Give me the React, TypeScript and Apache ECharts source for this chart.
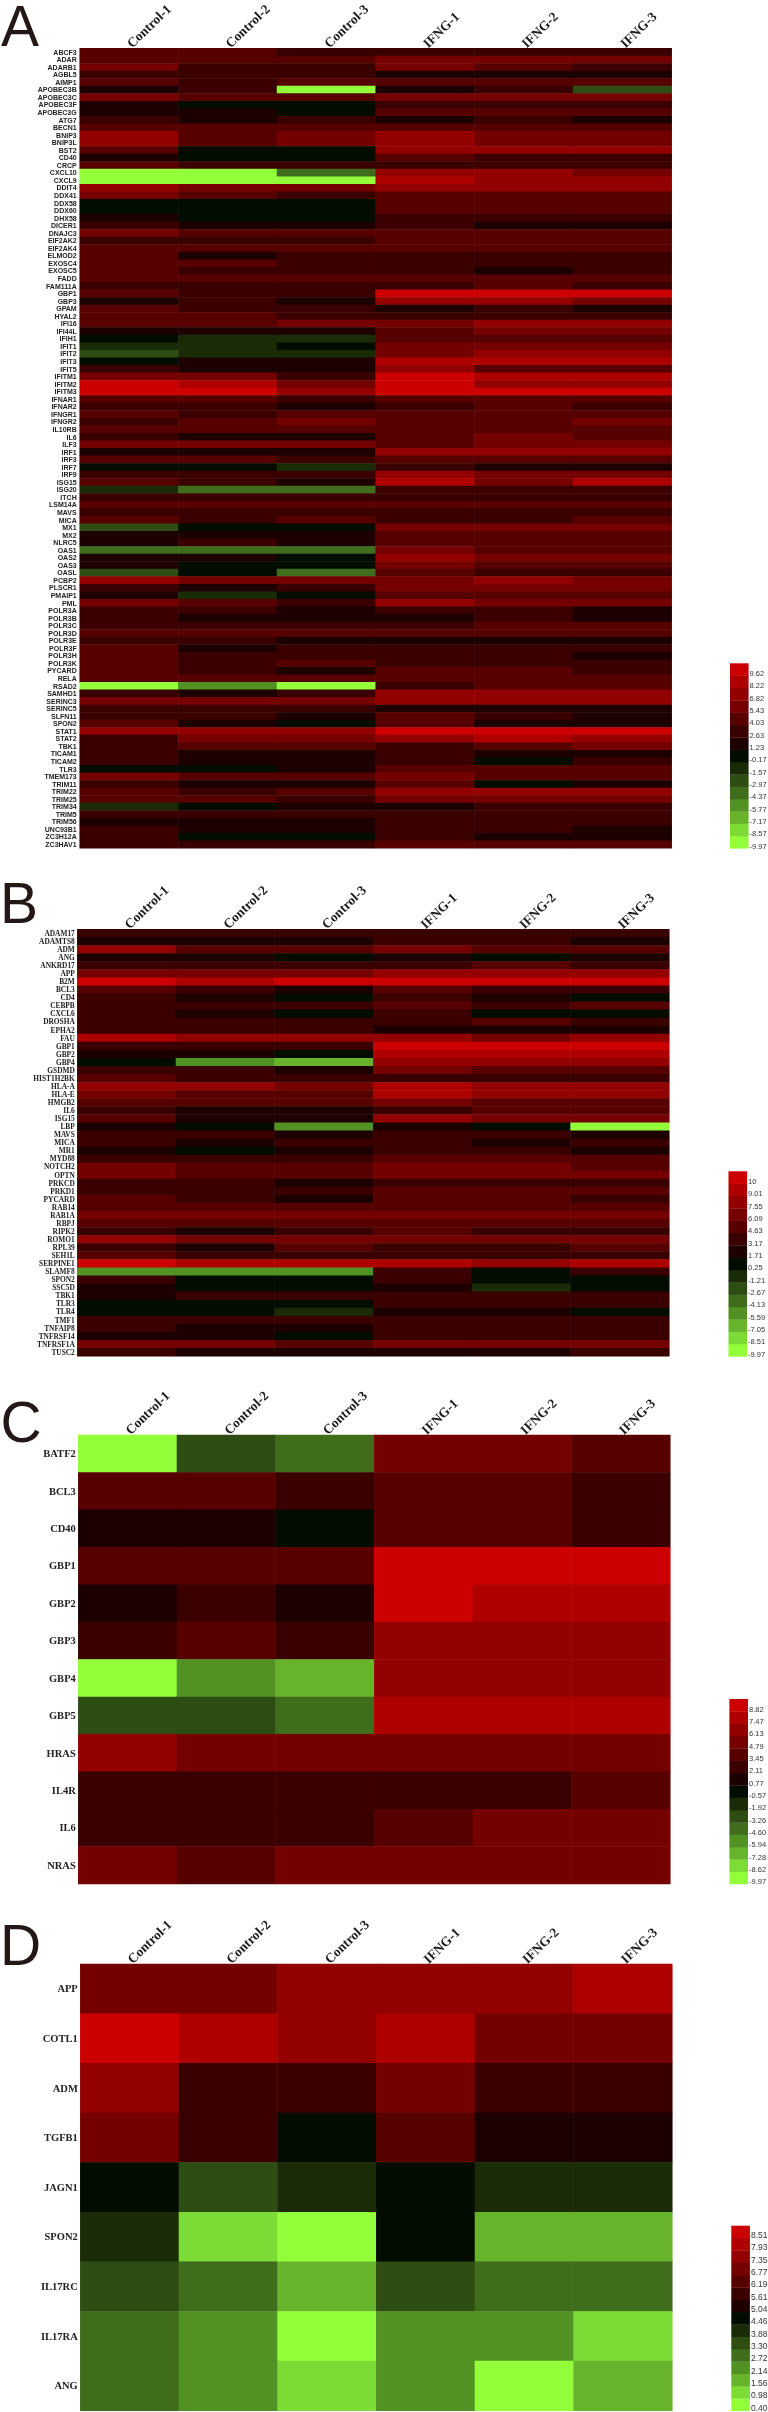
import React, { useEffect, useRef } from "react";
import * as echarts from "echarts";

const samples = ["Control-1", "Control-2", "Control-3", "IFNG-1", "IFNG-2", "IFNG-3"];

// Colour steps, index 0 = bottom (bright green) of each colour key, 14 = top (red).
const stepColors = [
  "#93FF3B", "#7CDB35", "#68B32C", "#529123", "#3F6D1C", "#2D4D12", "#1A2B08", "#020C00",
  "#1D0000", "#3A0000", "#570000", "#750000", "#920000", "#AF0000", "#CC0000",
];

// Tick labels of the colour keys, bottom to top.
const ticksA = ["-9.97", "-8.57", "-7.17", "-5.77", "-4.37", "-2.97", "-1.57", "-0.17", "1.23", "2.63", "4.03", "5.43", "6.82", "8.22", "9.62"];
const ticksB = ["-9.97", "-8.51", "-7.05", "-5.59", "-4.13", "-2.67", "-1.21", "0.25", "1.71", "3.17", "4.63", "6.09", "7.55", "9.01", "10"];
const ticksC = ["-9.97", "-8.62", "-7.28", "-5.94", "-4.60", "-3.26", "-1.92", "-0.57", "0.77", "2.11", "3.45", "4.79", "6.13", "7.47", "8.82"];
const ticksD = ["0.40", "0.98", "1.56", "2.14", "2.72", "3.30", "3.88", "4.46", "5.04", "5.61", "6.19", "6.77", "7.35", "7.93", "8.51"];

const genesA = ["ABCF3","ADAR","ADARB1","AGBL5","AIMP1","APOBEC3B","APOBEC3C","APOBEC3F","APOBEC3G","ATG7","BECN1","BNIP3","BNIP3L","BST2","CD40","CRCP","CXCL10","CXCL9","DDIT4","DDX41","DDX58","DDX60","DHX58","DICER1","DNAJC3","EIF2AK2","EIF2AK4","ELMOD2","EXOSC4","EXOSC5","FADD","FAM111A","GBP1","GBP3","GPAM","HYAL2","IFI16","IFI44L","IFIH1","IFIT1","IFIT2","IFIT3","IFIT5","IFITM1","IFITM2","IFITM3","IFNAR1","IFNAR2","IFNGR1","IFNGR2","IL10RB","IL6","ILF3","IRF1","IRF3","IRF7","IRF9","ISG15","ISG20","ITCH","LSM14A","MAVS","MICA","MX1","MX2","NLRC5","OAS1","OAS2","OAS3","OASL","PCBP2","PLSCR1","PMAIP1","PML","POLR3A","POLR3B","POLR3C","POLR3D","POLR3E","POLR3F","POLR3H","POLR3K","PYCARD","RELA","RSAD2","SAMHD1","SERINC3","SERINC5","SLFN11","SPON2","STAT1","STAT2","TBK1","TICAM1","TICAM2","TLR3","TMEM173","TRIM11","TRIM22","TRIM25","TRIM34","TRIM5","TRIM56","UNC93B1","ZC3H12A","ZC3HAV1"];
const stepsA = [
  [10,10,9,9,9,9],[10,10,10,11,11,11],[11,9,9,11,10,9],[9,9,9,8,8,8],[10,9,10,10,10,10],[8,9,0,8,9,5],
  [11,10,10,11,11,11],[8,7,7,9,9,9],[8,8,7,10,10,10],[9,8,9,8,9,8],[10,10,10,10,10,10],[12,10,11,12,11,11],
  [12,10,11,12,11,11],[10,7,7,12,12,12],[8,7,7,10,9,9],[10,9,9,9,9,9],[0,0,4,12,12,11],[0,0,0,13,12,12],
  [12,11,11,12,12,12],[11,10,9,10,10,10],[7,7,7,10,10,10],[7,7,7,10,10,10],[8,7,7,9,9,9],[9,8,8,9,8,8],
  [11,10,10,10,10,10],[9,9,9,10,10,10],[10,10,10,10,10,10],[10,8,9,9,9,9],[10,10,9,9,9,9],[10,9,9,9,8,9],
  [10,10,10,10,10,10],[9,9,9,9,10,9],[10,9,9,14,14,14],[8,9,8,12,12,11],[10,9,9,8,9,8],[10,10,9,9,9,9],
  [10,10,11,11,12,12],[8,8,8,10,11,11],[7,6,6,10,10,10],[6,6,7,11,11,11],[5,6,6,11,12,12],[7,8,8,13,13,13],
  [9,8,8,12,10,10],[11,11,9,14,13,13],[14,13,11,14,12,12],[14,14,12,14,14,14],[10,10,9,10,10,10],[9,9,8,9,10,9],
  [10,9,10,10,10,10],[9,10,11,10,10,11],[10,10,10,10,10,10],[9,8,8,10,11,10],[11,11,11,10,11,11],[8,8,8,12,12,12],
  [10,10,9,10,10,10],[7,7,6,9,8,8],[9,9,9,12,11,11],[10,9,8,13,11,13],[6,4,4,9,9,9],[9,9,9,9,9,9],
  [10,10,10,10,10,10],[9,9,9,9,9,9],[10,9,10,9,9,10],[5,7,7,11,11,11],[8,8,8,10,10,10],[8,9,8,10,10,10],
  [4,4,4,11,10,10],[8,8,7,12,11,11],[8,7,7,11,10,10],[5,7,4,10,9,9],[12,11,11,11,12,11],[9,8,9,11,11,11],
  [8,6,7,10,10,10],[11,10,9,12,11,11],[9,9,8,9,9,8],[9,8,8,8,9,8],[9,9,9,9,10,10],[10,10,10,10,10,10],
  [9,9,8,8,8,8],[10,8,9,9,9,9],[10,9,9,9,9,8],[10,9,10,9,9,9],[10,9,8,10,10,9],[10,10,10,10,10,10],
  [0,3,0,9,10,10],[9,8,9,12,12,12],[11,11,11,12,12,12],[9,9,9,8,8,8],[9,9,8,10,9,8],[10,8,7,10,8,8],
  [12,12,12,14,14,14],[9,11,11,12,13,12],[9,10,10,9,10,11],[9,8,8,9,8,8],[9,8,8,9,7,9],[7,7,8,10,10,10],
  [11,10,10,11,10,10],[9,8,8,10,7,8],[10,9,10,12,12,12],[10,10,9,11,11,11],[6,7,8,8,9,9],[9,9,9,9,9,9],
  [8,8,8,9,9,9],[9,8,8,9,9,8],[9,7,7,9,8,8],[9,9,9,10,10,10],
];

const genesB = ["ADAM17","ADAMTS8","ADM","ANG","ANKRD17","APP","B2M","BCL3","CD4","CEBPB","CXCL6","DROSHA","EPHA2","FAU","GBP1","GBP2","GBP4","GSDMD","HIST1H2BK","HLA-A","HLA-E","HMGB2","IL6","ISG15","LBP","MAVS","MICA","MR1","MYD88","NOTCH2","OPTN","PRKCD","PRKD1","PYCARD","RAB14","RAB1A","RBPJ","RIPK2","ROMO1","RPL39","SEH1L","SERPINE1","SLAMF8","SPON2","SSC5D","TBK1","TLR3","TLR4","TMF1","TNFAIP8","TNFRSF14","TNFRSF1A","TUSC2"];
const stepsB = [
  [9,9,9,9,9,9],[8,8,8,9,9,8],[12,10,10,11,10,10],[8,8,7,8,7,8],[9,9,9,9,10,9],[11,11,11,12,12,12],
  [14,13,14,14,14,14],[10,9,8,10,9,9],[9,8,7,9,8,7],[9,9,9,10,9,10],[9,8,7,9,7,7],[9,9,9,9,10,9],
  [9,9,9,8,8,8],[13,12,12,12,11,12],[9,9,9,14,14,14],[8,8,7,13,13,13],[7,3,2,12,12,12],[9,9,8,11,10,10],
  [10,9,9,9,9,9],[12,12,11,13,12,12],[11,10,10,13,12,12],[10,10,10,11,10,10],[9,8,8,9,10,10],[10,8,8,12,11,11],
  [8,7,3,8,7,0],[9,9,8,9,9,8],[9,8,9,9,8,9],[8,7,8,9,9,8],[9,9,9,10,10,10],[11,10,10,11,11,10],
  [11,10,10,11,11,11],[9,9,8,9,9,9],[9,9,9,10,10,10],[10,9,8,10,10,9],[10,10,10,10,10,10],[11,11,11,11,11,11],
  [10,10,10,10,10,10],[9,8,9,10,9,9],[12,11,11,11,11,11],[9,8,10,9,9,10],[10,9,9,9,9,9],[14,13,13,13,12,13],
  [3,3,3,9,7,9],[9,7,7,9,7,7],[8,7,7,8,6,7],[8,9,9,9,9,9],[7,7,7,9,9,9],[7,7,6,8,8,7],
  [9,9,9,9,9,9],[9,8,8,9,9,9],[8,8,7,9,9,9],[11,11,10,11,11,11],[9,8,8,8,8,9],
];

const genesC = ["BATF2","BCL3","CD40","GBP1","GBP2","GBP3","GBP4","GBP5","HRAS","IL4R","IL6","NRAS"];
const stepsC = [
  [0,5,4,11,11,10],[10,10,9,10,10,9],[8,8,7,10,10,9],[10,10,10,14,14,14],[8,9,8,14,13,13],[9,10,9,12,12,12],
  [0,3,2,12,12,12],[5,5,4,13,13,13],[12,11,11,11,11,11],[9,9,9,9,9,10],[9,9,9,10,11,11],[11,10,11,11,11,11],
];

const genesD = ["APP","COTL1","ADM","TGFB1","JAGN1","SPON2","IL17RC","IL17RA","ANG"];
const stepsD = [
  [11,11,12,12,12,13],[14,13,12,13,11,11],[12,9,9,11,9,9],[11,9,7,10,8,8],[7,5,6,7,6,6],
  [6,1,0,7,2,2],[5,4,2,5,4,4],[4,3,0,3,3,1],[4,3,1,3,0,2],
];

const panels = [
  { letter: "A", genes: genesA, steps: stepsA, ticks: ticksA, left: 79.7, top: 44.5, bottom: 848.3, geneFont: "Liberation Sans", geneSize: 7, margin: 3, letterX: 1, letterY: 26.3, keyX: 730, keySize: 7.5, keyDy: 4 },
  { letter: "B", genes: genesB, steps: stepsB, ticks: ticksB, left: 77.3, top: 929.3, bottom: 1356.3, geneFont: "Liberation Serif", geneSize: 7.4, margin: 2.5, letterX: 0, letterY: 903, keyX: 728.5, keySize: 7.5, keyDy: 4 },
  { letter: "C", genes: genesC, steps: stepsC, ticks: ticksC, left: 78.3, top: 1435, bottom: 1884, geneFont: "Liberation Serif", geneSize: 10.5, margin: 2.5, letterX: 0.5, letterY: 1422, keyX: 729.4, keySize: 7.5, keyDy: 4 },
  { letter: "D", genes: genesD, steps: stepsD, ticks: ticksD, left: 80.3, top: 1964, bottom: 2410.7, geneFont: "Liberation Serif", geneSize: 10.5, margin: 2.5, letterX: 0, letterY: 1945, keyX: 731.3, keySize: 8.5, keyDy: 3 },
];

const GRID_WIDTH = 592;
const KEY_W = 18.6;
const KEY_H = 185;

function buildOption() {
  const grid: any[] = [];
  const xAxis: any[] = [];
  const yAxis: any[] = [];
  const series: any[] = [];
  const visualMap: any[] = [];
  const graphic: any[] = [];

  panels.forEach((p, i) => {
    grid.push({ left: p.left, top: p.top, width: GRID_WIDTH, height: p.bottom - p.top, containLabel: false });
    xAxis.push({
      type: "category", gridIndex: i, position: "top", data: samples,
      axisLine: { show: false }, axisTick: { show: false }, splitLine: { show: false }, splitArea: { show: false },
      axisLabel: { interval: 0, rotate: -44, margin: 3, fontFamily: "Liberation Serif", fontWeight: "bold", fontSize: 13.4, color: "#1a1a1a" },
    });
    yAxis.push({
      type: "category", gridIndex: i, inverse: true, data: p.genes,
      axisLine: { show: false }, axisTick: { show: false }, splitLine: { show: false }, splitArea: { show: false },
      axisLabel: { interval: 0, margin: p.margin, fontFamily: p.geneFont, fontWeight: "bold", fontSize: p.geneSize, color: "#222222", hideOverlap: false },
    });
    const cells: [number, number, number][] = [];
    p.steps.forEach((row, y) => row.forEach((step, x) => cells.push([x, y, Number(p.ticks[step])])));
    series.push({
      type: "heatmap", xAxisIndex: i, yAxisIndex: i, data: cells, progressive: 0, silent: true,
      itemStyle: { borderWidth: 0 }, emphasis: { disabled: true },
    });
    visualMap.push({
      type: "piecewise", show: false, seriesIndex: i, dimension: 2,
      pieces: p.ticks.map((t, k) => ({ value: Number(t), color: stepColors[k] })),
    });

    graphic.push({
      type: "text", x: p.letterX, y: p.letterY, silent: true,
      style: { text: p.letter, font: "normal 57px 'Liberation Sans'", lineHeight: 44, fill: "#231815", verticalAlign: "middle" },
    });
    const stepH = KEY_H / p.ticks.length;
    const keyTop = p.bottom - KEY_H;
    p.ticks.forEach((t, k) => {
      const y = keyTop + (p.ticks.length - 1 - k) * stepH;
      graphic.push({
        type: "rect", silent: true,
        shape: { x: p.keyX, y, width: KEY_W, height: stepH + 0.3 },
        style: { fill: stepColors[k] },
      });
      graphic.push({
        type: "text", silent: true, x: p.keyX + KEY_W + 1, y: y + stepH / 2 + p.keyDy,
        style: { text: t, font: `normal ${p.keySize}px 'Liberation Sans'`, fill: "#333333", verticalAlign: "middle", align: "left" },
      });
    });
  });

  return { animation: false, backgroundColor: "#ffffff", grid, xAxis, yAxis, series, visualMap, graphic };
}

export default function App() {
  const ref = useRef<HTMLDivElement>(null);
  useEffect(() => {
    document.body.style.margin = "0";
    const chart = echarts.init(ref.current!, undefined, { renderer: "svg" });
    chart.setOption(buildOption());
    return () => chart.dispose();
  }, []);
  return <div ref={ref} style={{ position: "absolute", left: 0, top: 0, width: 768, height: 2412, filter: "blur(0.35px)" }} />;
}
